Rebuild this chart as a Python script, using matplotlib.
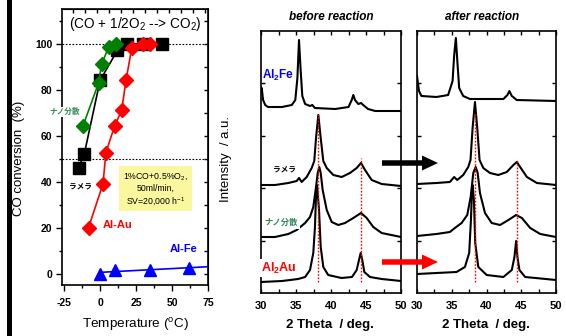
import numpy as np
import matplotlib
matplotlib.use('Agg')
import matplotlib.pyplot as plt
from matplotlib import patches
from matplotlib.ticker import MultipleLocator, NullFormatter

plt.rcParams['font.family'] = ['Liberation Sans', 'Noto Sans CJK JP', 'DejaVu Sans']
plt.rcParams['mathtext.fontset'] = 'custom'
plt.rcParams['mathtext.rm'] = 'Liberation Sans'
plt.rcParams['mathtext.it'] = 'Liberation Sans:italic'
plt.rcParams['mathtext.bf'] = 'Liberation Sans:bold'
plt.rcParams['axes.unicode_minus'] = False

# ---- CO conversion vs temperature ----
lam_T = [-15, -11, 0, 12, 19, 30, 43]
lam_conv = [46, 52, 84, 97, 99.6, 100, 100]
nano_T = [-12, -1, 1, 6, 11]
nano_conv = [64, 83, 91, 98.5, 100]
alau_T = [-8, 2, 4, 10, 15, 18, 22, 30, 35]
alau_conv = [20, 39, 52.5, 64, 71, 84, 98, 100, 100]
alfe_T = [0, 10, 35, 62]
alfe_conv = [0, 1.5, 1.5, 2.5]

# ---- XRD, before reaction ----
bef_fe_tth = [30.0, 30.1, 30.3, 30.6, 31.0, 33.0, 34.4, 34.9, 35.2, 35.43, 35.67, 35.9, 36.3,
              37.0, 37.33, 37.7, 40.6, 42.5, 42.96, 43.19, 43.43, 43.9, 44.29, 44.6, 45.3, 46.3, 50.0]
bef_fe_int = [200, 205, 193, 188, 186, 186, 188, 193, 215, 253, 222, 197, 189,
              187, 188, 185, 184, 186, 193, 198, 193, 189, 190, 188, 184, 182, 182]
bef_lam_tth = [30.0, 32.0, 33.9, 35.1, 35.43, 35.81, 36.53, 37.24, 37.61, 37.86, 38.19, 38.53,
               38.9, 39.39, 40.33, 41.53, 42.71, 43.67, 44.29, 44.86, 45.81, 47.24, 50.0]
bef_lam_int = [108, 108, 110, 112, 115, 111, 116, 125, 132, 155, 178, 155,
               132, 125, 118, 116, 120, 125, 130, 123, 113, 109, 107]
bef_nano_tth = [30.0, 32.0, 33.9, 35.1, 36.3, 37.0, 37.47, 37.86, 38.1, 38.33, 38.53, 38.81,
                39.39, 40.1, 41.04, 42.0, 43.19, 44.29, 45.1, 46.04, 47.24, 50.0]
bef_nano_int = [56, 56, 59, 63, 70, 76, 86, 106, 120, 126, 120, 103,
                83, 71, 68, 70, 75, 80, 75, 66, 60, 56]
bef_au_tth = [30.0, 33.0, 35.3, 36.3, 37.0, 37.47, 37.71, 37.9, 38.0, 38.29, 38.53, 38.9,
              39.6, 41.5, 43.0, 43.67, 44.0, 44.24, 44.47, 44.76, 45.57, 47.24, 50.0]
bef_au_int = [11, 12, 14, 16, 23, 40, 66, 106, 108, 83, 46, 26,
              18, 15, 16, 23, 33, 40, 33, 21, 16, 14, 12]

# ---- XRD, after reaction ----
aft_fe_tth = [30.0, 30.29, 30.64, 32.8, 34.48, 35.12, 35.35, 35.59, 35.84, 36.07, 36.65,
              37.62, 42.43, 43.01, 43.29, 43.64, 44.36, 50.0]
aft_fe_int = [217, 202, 197, 196, 198, 212, 238, 255, 228, 205, 197,
              194, 194, 198, 202, 197, 193, 192]
aft_lam_tth = [30.0, 32.8, 34.73, 35.35, 35.78, 36.65, 37.37, 37.7, 38.0, 38.34, 38.67, 39.0,
               39.54, 40.5, 41.7, 42.92, 43.87, 44.36, 44.84, 45.81, 47.25, 50.0]
aft_lam_int = [109, 110, 111, 116, 113, 118, 126, 133, 165, 191, 165, 133,
               125, 120, 118, 121, 128, 131, 126, 116, 110, 108]
aft_nano_tth = [30.0, 32.8, 34.73, 35.45, 36.42, 37.23, 37.72, 38.1, 38.44, 38.73, 39.06,
                39.78, 40.75, 41.95, 43.15, 44.26, 45.09, 46.29, 47.73, 50.0]
aft_nano_int = [57, 59, 61, 65, 70, 78, 96, 120, 126, 120, 100,
                80, 70, 68, 73, 78, 75, 65, 59, 56]
aft_au_tth = [30.0, 32.8, 35.69, 36.89, 37.51, 37.76, 37.9, 38.0, 38.19, 38.38, 38.82,
              40.03, 42.43, 43.64, 44.02, 44.26, 44.45, 44.74, 45.56, 50.0]
aft_au_int = [19, 20, 21, 26, 40, 73, 100, 108, 93, 50, 26,
              18, 16, 23, 36, 52, 36, 23, 16, 13]

# Al2Au reference peak positions (red dotted lines)
bef_ref_pos = [38.2, 44.3]
bef_ref_top = [179, 135]
aft_ref_pos = [38.35, 44.35]
aft_ref_top = [180, 133]
ref_bottom = 11

W, H = 566, 336
fig = plt.figure(figsize=(W / 100, H / 100), dpi=100)


def px_axes(x0, y0, x1, y1):
    return fig.add_axes([x0 / W, 1 - y1 / H, (x1 - x0) / W, (y1 - y0) / H])


def bold_ticks(ax):
    for t in ax.get_xticklabels() + ax.get_yticklabels():
        t.set_fontweight('bold')


# ================= left: CO conversion =================
ax1 = px_axes(62, 9, 208, 285)
ax1.axhline(100, color='k', ls=(0, (1.5, 1.5)), lw=0.8, zorder=1)
ax1.axhline(50, color='k', ls=(0, (1.5, 1.5)), lw=0.8, zorder=1)

ax1.plot(lam_T, lam_conv, '-s', color='k', ms=8, lw=1.2, zorder=3)
ax1.plot(nano_T, nano_conv, '-D', color='#008000', ms=7.5, lw=1.2, zorder=4)
ax1.plot(alau_T, alau_conv, '-D', color='#ff0000', ms=7.5, lw=1.2, zorder=5)
ax1.plot(alfe_T, alfe_conv, '^', color='#0000ff', ms=8.5, lw=0, zorder=5)
fit = np.polyfit(alfe_T, alfe_conv, 1)
tfit = np.array([alfe_T[0], 75])
ax1.plot(tfit, np.polyval(fit, tfit), '-', color='#0000ff', lw=1.2, zorder=4)

ax1.set_xlim(-26.5, 75)
ax1.set_ylim(-5, 115)
ax1.set_xticks([-25, 0, 25, 50, 75])
ax1.xaxis.set_minor_locator(MultipleLocator(12.5))
ax1.set_yticks(range(0, 101, 20))
ax1.yaxis.set_minor_locator(MultipleLocator(10))
ax1.tick_params(which='major', direction='out', length=4, width=1, labelsize=7.5)
ax1.tick_params(which='minor', direction='out', length=2.5, width=1)
ax1.tick_params(axis='x', which='major', pad=5.5)
ax1.tick_params(axis='y', which='major', pad=3)
bold_ticks(ax1)
for s in ax1.spines.values():
    s.set_linewidth(1.2)

secx = ax1.secondary_xaxis('top')
secx.set_xticks(np.arange(-18.6, 75, 8.33))
secx.xaxis.set_major_formatter(NullFormatter())
secx.tick_params(direction='in', length=3, width=1)
secy = ax1.secondary_yaxis('right')
secy.set_yticks(range(0, 111, 10))
secy.yaxis.set_major_formatter(NullFormatter())
secy.tick_params(direction='in', length=3, width=1)

ax1.set_xlabel('Temperature ($^{\\rm o}$C)', fontsize=9.7)
ax1.xaxis.set_label_coords(0.5, -0.112)
ax1.set_ylabel('CO conversion  (%)', fontsize=9.5)
ax1.yaxis.set_label_coords(-0.253, 0.46)

ax1.text(24.5, 108.3, '(CO + 1/2O$_2$ --> CO$_2$)', ha='center', va='center', fontsize=9.8)
ax1.text(-25, 70.3, 'ナノ分散', color='#2e8b57', fontsize=5.5, fontweight='bold',
         ha='center', va='center', bbox=dict(fc='white', ec='none', pad=0.5), zorder=6)
ax1.text(-14, 37.6, 'ラメラ', color='k', fontsize=5.5, fontweight='bold',
         ha='center', va='center', bbox=dict(fc='white', ec='none', pad=3), zorder=6)
ax1.text(12.3, 21, 'Al-Au', color='#ff0000', fontsize=8, fontweight='bold',
         ha='center', va='center')
ax1.text(58, 10.5, 'Al-Fe', color='#0000ff', fontsize=8, fontweight='bold',
         ha='center', va='center')
ax1.text(38.8, 36.7, '1%CO+0.5%O$_2$,\n50ml/min,\nSV=20,000 h$^{-1}$', fontsize=6.3,
         ha='center', va='center', linespacing=1.3,
         bbox=dict(boxstyle='square,pad=0.45', fc='#fbf79f', ec='none'), zorder=2)

# ================= XRD panels =================
def xrd_panel(ax, curves, ref_pos, ref_top):
    for tth, inten in curves:
        ax.plot(tth, inten, '-', color='k', lw=1.5, zorder=3)
    for p, top in zip(ref_pos, ref_top):
        ax.plot([p, p], [ref_bottom, top], ls=(0, (1.2, 1.2)), color='#ff0000', lw=1.0, zorder=4)
    ax.set_xlim(30, 50)
    ax.set_ylim(0, 262)
    ax.set_xticks(range(30, 51, 5))
    ax.xaxis.set_minor_locator(MultipleLocator(2.5))
    ax.set_yticks([52.4, 104.8, 157.2, 209.6])
    ax.yaxis.set_major_formatter(NullFormatter())
    ax.tick_params(which='both', direction='in', top=True, right=True, length=3, width=1,
                   labelsize=8, pad=6)
    bold_ticks(ax)
    for s in ax.spines.values():
        s.set_linewidth(1.2)
    ax.set_xlabel('2 Theta  / deg.', fontsize=9.5, fontweight='bold')
    ax.xaxis.set_label_coords(0.49, -0.099)


ax2 = px_axes(261, 31, 401, 293)
xrd_panel(ax2, [(bef_fe_tth, bef_fe_int), (bef_lam_tth, bef_lam_int),
                (bef_nano_tth, bef_nano_int), (bef_au_tth, bef_au_int)],
          bef_ref_pos, bef_ref_top)
ax2.set_ylabel('Intensity  / a.u.', fontsize=9.5)
ax2.yaxis.set_label_coords(-0.207, 0.51)
ax2.text(0.5, 1.053, 'before reaction', transform=ax2.transAxes, ha='center', va='center',
         fontsize=8.5, fontweight='bold', fontstyle='italic')
ax2.text(32.5, 218, r'Al$_\mathbf{2}$Fe', color='#0000ff', fontsize=8.5, fontweight='bold',
         ha='center', va='center')
ax2.text(33.4, 123, 'ラメラ', color='k', fontsize=5.5, fontweight='bold', ha='center', va='center')
ax2.text(32.9, 70, 'ナノ分散', color='#2e8b57', fontsize=6, fontweight='bold',
         ha='center', va='center', bbox=dict(fc='white', ec='none', pad=1.5), zorder=5)
ax2.text(32.6, 25, r'Al$_\mathbf{2}$Au', color='#ff0000', fontsize=9, fontweight='bold',
         ha='center', va='center', bbox=dict(fc='white', ec='none', pad=1), zorder=5)

ax3 = px_axes(417, 31, 556, 293)
xrd_panel(ax3, [(aft_fe_tth, aft_fe_int), (aft_lam_tth, aft_lam_int),
                (aft_nano_tth, aft_nano_int), (aft_au_tth, aft_au_int)],
          aft_ref_pos, aft_ref_top)
ax3.xaxis.set_label_coords(0.496, -0.099)
ax3.text(0.47, 1.053, 'after reaction', transform=ax3.transAxes, ha='center', va='center',
         fontsize=8.5, fontweight='bold', fontstyle='italic')

# arrows between panels and the black bar at the far left
for yy, col in [(H - 163, 'k'), (H - 262, '#ff0000')]:
    fig.add_artist(patches.FancyArrow(3.82, yy / 100, 0.56, 0, width=0.055, head_width=0.15,
                                      head_length=0.16, length_includes_head=True,
                                      transform=fig.dpi_scale_trans, color=col, lw=0))
fig.add_artist(patches.Rectangle((0.07, 0), 0.05, H / 100, transform=fig.dpi_scale_trans,
                                 color='k', lw=0))

fig.savefig('out.png', dpi=100)
